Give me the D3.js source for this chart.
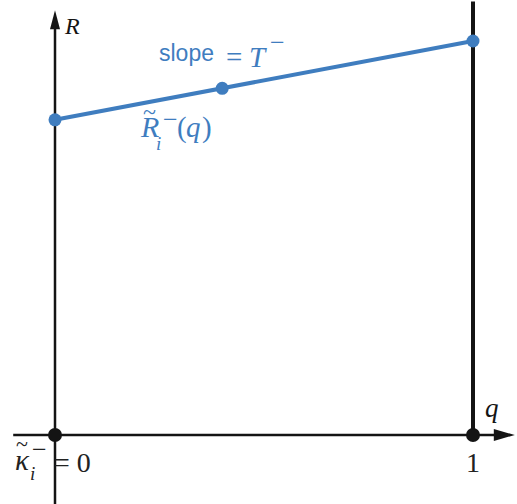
<!DOCTYPE html>
<html><head><meta charset="utf-8">
<script src="https://cdn.jsdelivr.net/npm/d3@7"></script>
<style>html,body{margin:0;padding:0;background:#fff;}</style>
</head><body>
<script>
// data
const lineQ = [0, 1];
const lineR = [0.8, 1.0];
const blueQ = [0, 0.4, 1];
const blueR = [0.8, 0.88, 1.0];
const blackQ = [0, 1];
const blackR = [0, 0];
const xTickVals = [1];
const xTickLabels = ["1"];

const W = 517, H = 504;
const x = d3.scaleLinear().domain([0, 1]).range([55, 473]);
const y = d3.scaleLinear().domain([0, 1]).range([435, 41]);
const blue = "#3f7dbf";
const ink = "#141414";
const SERIF = '"Liberation Serif"';
const SANS = '"Liberation Sans"';

const svg = d3.select("body").append("svg").attr("width", W).attr("height", H)
  .style("display", "block").style("font-family", SERIF);

// axes
svg.append("line").attr("x1", x(-0.1)).attr("x2", x(1.08)).attr("y1", y(0)).attr("y2", y(0))
  .attr("stroke", ink).attr("stroke-width", 2.5);
svg.append("line").attr("x1", x(0)).attr("x2", x(0)).attr("y1", H).attr("y2", y(1.06))
  .attr("stroke", ink).attr("stroke-width", 2.5);
// arrows
const xTip = x(1.1), yTip = y(1.078);
svg.append("path").attr("d", `M${xTip},${y(0)} L${xTip-21},${y(0)-6} L${xTip-21},${y(0)+6} Z`).attr("fill", ink);
svg.append("path").attr("d", `M${x(0)},${yTip} L${x(0)-5},${yTip+19} L${x(0)+5},${yTip+19} Z`).attr("fill", ink);

// vertical line at q=1
svg.append("line").attr("x1", x(1)).attr("x2", x(1)).attr("y1", y(1.1)).attr("y2", y(0))
  .attr("stroke", ink).attr("stroke-width", 4);

// blue line
const line = d3.line().x((d,i)=>x(lineQ[i])).y((d,i)=>y(lineR[i]));
svg.append("path").datum(lineQ).attr("d", line).attr("fill","none").attr("stroke", blue).attr("stroke-width", 4);

svg.selectAll("circle.b").data(blueQ).enter().append("circle")
  .attr("cx", (d)=>x(d)).attr("cy", (d,i)=>y(blueR[i])).attr("r", 6.5).attr("fill", blue);
svg.selectAll("circle.k").data(blackQ).enter().append("circle")
  .attr("cx", (d)=>x(d)).attr("cy", (d,i)=>y(blackR[i])).attr("r", 7).attr("fill", ink);

function t(g, fam, xx, yy, size, str, italic) {
  return g.append("text").attr("x", xx).attr("y", yy)
    .style("font-family", fam)
    .style("font-size", size + "px").style("font-style", italic ? "italic" : "normal").text(str);
}

// axis labels
const ag = svg.append("g").attr("fill", ink);
t(ag, SERIF, 65, 34, 24, "R", true);
t(ag, SERIF, 485, 417, 27, "q", true);
ag.selectAll("text.tick").data(xTickVals).enter().append("text").attr("class", "tick")
  .attr("x", d=>x(d)).attr("y", 472).attr("text-anchor","middle")
  .style("font-family", SERIF).style("font-size", "28px").attr("fill", "#222").text((d,i)=>xTickLabels[i]);

// kappa label
const kg = svg.append("g").attr("fill", "#222");
t(kg, SERIF, 15, 470, 29, "κ", true);
t(kg, SERIF, 16, 451, 22, "~", false);
t(kg, SERIF, 32, 458, 26, "−", false);
t(kg, SERIF, 30, 480, 19, "i", true);
t(kg, SERIF, 54, 472, 28, "= 0", false);

// slope label
const sg = svg.append("g").attr("fill", blue);
t(sg, SANS, 159, 61, 23, "slope", false);
t(sg, SERIF, 226, 67, 29, "=", false);
t(sg, SERIF, 249, 67, 29, "T", true);
t(sg, SERIF, 270, 51, 26, "−", false);

// R tilde label
const rg = svg.append("g").attr("fill", blue);
t(rg, SERIF, 141, 137, 30, "R", true);
t(rg, SERIF, 143, 120, 24, "~", false);
t(rg, SERIF, 163, 128, 26, "−", false);
t(rg, SERIF, 156, 150, 19, "i", true);
t(rg, SERIF, 177, 137, 29, "(", false);
t(rg, SERIF, 186, 137, 29, "q", true);
t(rg, SERIF, 202, 137, 29, ")", false);
</script>
</body></html>
